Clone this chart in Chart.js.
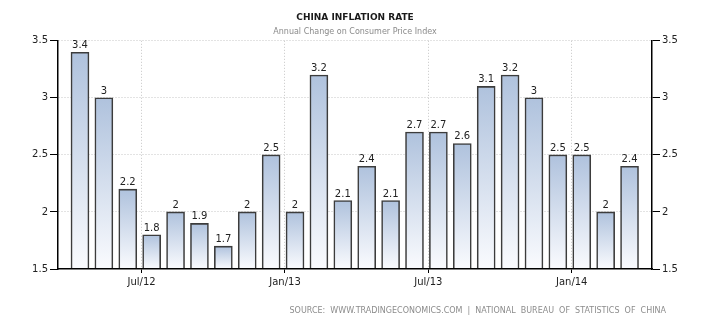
<!DOCTYPE html>
<html>
<head>
<meta charset="utf-8">
<title>China Inflation Rate</title>
<script src="https://cdn.jsdelivr.net/npm/chart.js@4/dist/chart.umd.min.js"></script>
<style>
  html, body { margin: 0; padding: 0; background: #fff; }
</style>
</head>
<body>
<canvas id="cpi" width="710" height="325"></canvas>
<script>
// CPI, annual % change, monthly Apr 2012 - Mar 2014
var months = ['Apr/12', 'May/12', 'Jun/12', 'Jul/12', 'Aug/12', 'Sep/12', 'Oct/12', 'Nov/12', 'Dec/12',
              'Jan/13', 'Feb/13', 'Mar/13', 'Apr/13', 'May/13', 'Jun/13', 'Jul/13', 'Aug/13', 'Sep/13',
              'Oct/13', 'Nov/13', 'Dec/13', 'Jan/14', 'Feb/14', 'Mar/14'];
var inflation = [3.4, 3, 2.2, 1.8, 2, 1.9, 1.7, 2, 2.5, 2, 3.2, 2.1, 2.4, 2.1, 2.7, 2.7, 2.6, 3.1, 3.2, 3, 2.5, 2.5, 2, 2.4];
var xTickLabels = ['Jul/12', 'Jan/13', 'Jul/13', 'Jan/14'];
var yTicks = [1.5, 2, 2.5, 3, 3.5];

var SOURCE_TEXT = 'SOURCE:  WWW.TRADINGECONOMICS.COM  |  NATIONAL  BUREAU  OF  STATISTICS  OF  CHINA';
var TICK_FONT = { family: 'DejaVu Sans', size: 10 };
var GRID_COLOR = '#c6c6c6';

// month index runs from the start of each month, bars sit mid month
var MID_MONTH = 0.42;
var xTickIdx = xTickLabels.map(function (l) { return months.indexOf(l); });

function barFill(context) {
    var chart = context.chart;
    var area = chart.chartArea;
    if (!area || !context.parsed) return '#b0c3de';
    var top = chart.scales.y.getPixelForValue(context.parsed.y);
    var g = chart.ctx.createLinearGradient(0, top, 0, area.bottom);
    g.addColorStop(0, '#afc2dd');
    g.addColorStop(1, '#fafbfe');
    return g;
}

// value printed above each bar
var barValueLabels = {
    id: 'barValueLabels',
    afterDatasetsDraw: function (chart) {
        var ctx = chart.ctx;
        var meta = chart.getDatasetMeta(0);
        ctx.save();
        ctx.font = '10px "DejaVu Sans"';
        ctx.fillStyle = '#222';
        ctx.textAlign = 'center';
        ctx.textBaseline = 'alphabetic';
        meta.data.forEach(function (bar, i) {
            ctx.fillText(String(inflation[i]), bar.x, bar.y - 4);
        });
        ctx.restore();
    }
};

var sourceLine = {
    id: 'sourceLine',
    afterDraw: function (chart) {
        var ctx = chart.ctx;
        ctx.save();
        ctx.font = '8px "DejaVu Sans"';
        ctx.fillStyle = '#8c8c8c';
        ctx.textAlign = 'right';
        ctx.textBaseline = 'alphabetic';
        ctx.fillText(SOURCE_TEXT, 666, 313);
        ctx.restore();
    }
};

function sideAxis(position, onArea) {
    return {
        type: 'linear',
        position: position,
        min: 1.5,
        max: 3.5,
        afterBuildTicks: function (s) {
            s.ticks = yTicks.map(function (v) { return { value: v }; });
        },
        afterFit: function (s) { s.width = 58; },
        ticks: {
            color: '#222',
            font: TICK_FONT,
            padding: 2,
            callback: function (value) { return String(value); }
        },
        grid: {
            drawOnChartArea: onArea,
            color: function (c) { return c.tick && c.tick.value === 1.5 ? 'rgba(0,0,0,0)' : GRID_COLOR; },
            tickColor: '#000',
            tickLength: 8
        },
        border: { color: '#000', width: 1.5, dash: [1, 2], z: 1 }
    };
}

new Chart(document.getElementById('cpi'), {
    type: 'bar',
    data: {
        datasets: [{
            data: inflation.map(function (v, i) { return { x: i + MID_MONTH, y: v }; }),
            backgroundColor: barFill,
            borderColor: '#3c3c3c',
            borderWidth: 1.6,
            barThickness: 18
        }]
    },
    options: {
        responsive: false,
        animation: false,
        devicePixelRatio: 1,
        layout: { padding: 0 },
        plugins: {
            legend: { display: false },
            tooltip: { enabled: false },
            title: {
                display: true,
                text: 'CHINA INFLATION RATE',
                color: '#1a1a1a',
                font: { family: 'DejaVu Sans', size: 9, weight: 'bold' },
                padding: { top: 12, bottom: 4 }
            },
            subtitle: {
                display: true,
                text: 'Annual Change on Consumer Price Index',
                color: '#8a8a8a',
                font: { family: 'DejaVu Sans', size: 8 },
                padding: { top: 0, bottom: 4.4 }
            }
        },
        scales: {
            x: {
                type: 'linear',
                offset: false,
                min: -0.5,
                max: 24.36,
                afterBuildTicks: function (s) {
                    s.ticks = xTickIdx.map(function (v) { return { value: v }; });
                },
                afterFit: function (s) { s.height = 56; },
                ticks: {
                    color: '#222',
                    font: TICK_FONT,
                    padding: 3,
                    maxRotation: 0,
                    autoSkip: false,
                    callback: function (value, index) { return xTickLabels[index]; }
                },
                grid: { offset: false, color: GRID_COLOR, tickColor: '#000', tickLength: 4 },
                border: { color: '#000', width: 1.5, dash: [1, 2], z: 1 }
            },
            y: sideAxis('left', true),
            y2: sideAxis('right', false)
        }
    },
    plugins: [barValueLabels, sourceLine]
});
</script>
</body>
</html>
